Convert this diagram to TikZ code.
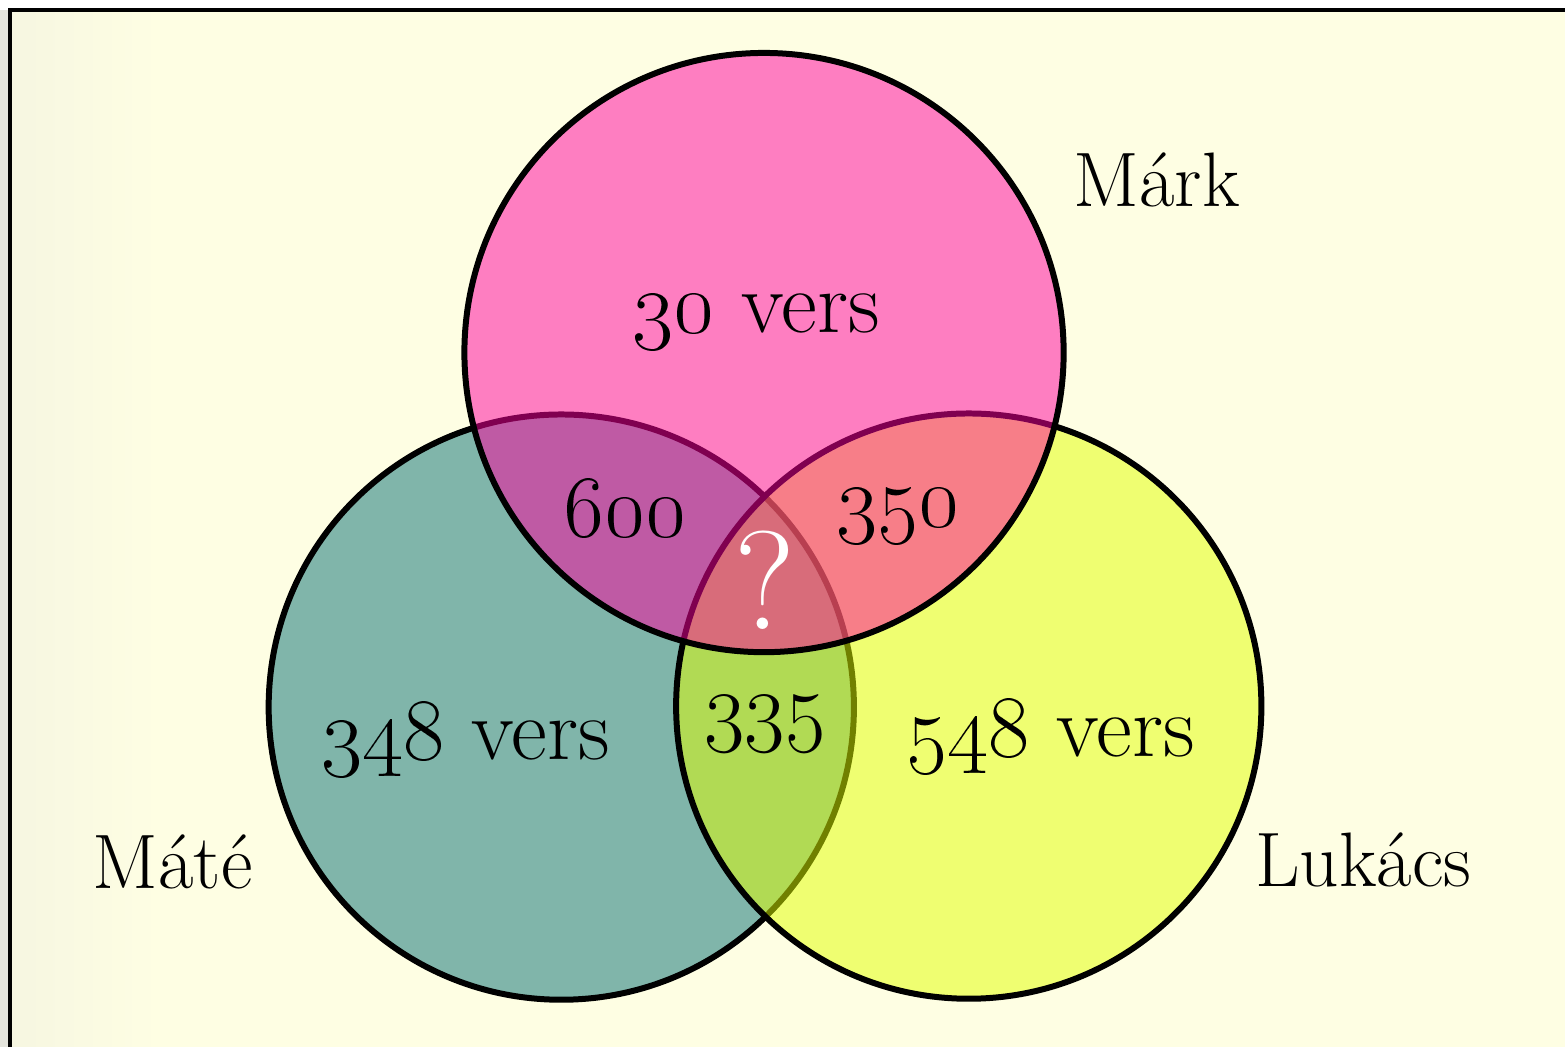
\RequirePackage{fix-cm}
\documentclass[tikz,border=0pt]{standalone}
\usetikzlibrary{positioning}

\definecolor{bg_paper}{HTML}{FEFEE3}
\definecolor{bg_edge}{HTML}{E4E4DC}
\definecolor{mate_teal}{HTML}{80B5AA}
\definecolor{lukacs_yellow}{HTML}{E2FF00}
\definecolor{mark_pink}{HTML}{FF00A0}

\begin{document}
\begin{tikzpicture}[
  x=0.2mm,y=-0.2mm,
  set_circle/.style={circle,draw=black,line width=1.2mm,inner sep=0pt,minimum size=#1},
  num_label/.style={anchor=base,inner sep=0pt,font=\fontsize{50}{56}\selectfont},
  name_label/.style={anchor=base,inner sep=0pt,font=\fontsize{44}{50}\selectfont},
  ask_label/.style={anchor=base,inner sep=0pt,text=white,font=\fontsize{80}{88}\selectfont}
  ]
  % page and frame
  \fill[white] (0,0) rectangle (1567,1048);
  \fill[bg_edge] (0,10) rectangle (9,1048);
  \fill[bg_paper] (10,10) rectangle (1567,1048);
  \shade[left color=bg_edge!30!bg_paper,right color=bg_paper] (10,10) rectangle (160,1048);
  \draw[line width=0.8mm] (10,1048) -- (10,10) -- (1567,10);
  \useasboundingbox (0,0) rectangle (1567,1048);

  % the three sets
  \node[set_circle=117.2mm,fill=mate_teal] (Mate) at (562,708) {};
  \node[set_circle=117.2mm,fill=lukacs_yellow,fill opacity=0.5] (Lukacs) at (970,707) {};
  \node[set_circle=120mm,fill=mark_pink,fill opacity=0.5] (Mark) at (765,353) {};

  % counts
  \node[num_label] (onlyMark) at (757,333) {\oldstylenums{30}~vers};
  \node[num_label] (MarkMate) at (626,537) {\oldstylenums{600}};
  \node[num_label] (MarkLukacs) at (899,527) {\oldstylenums{350}};
  \node[ask_label] (allThree) at (766,630) {?};
  \node[num_label] (onlyMate) at (466,760) {\oldstylenums{348}~vers};
  \node[num_label] (MateLukacs) at (766,753) {335};
  \node[num_label] (onlyLukacs) at (1052,757) {\oldstylenums{548}~vers};

  % names
  \node[name_label] (nameMark) at (1158,207) {Márk};
  \node[name_label] (nameMate) at (173,890) {Máté};
  \node[name_label] (nameLukacs) at (1365,888) {Lukács};
\end{tikzpicture}
\end{document}
